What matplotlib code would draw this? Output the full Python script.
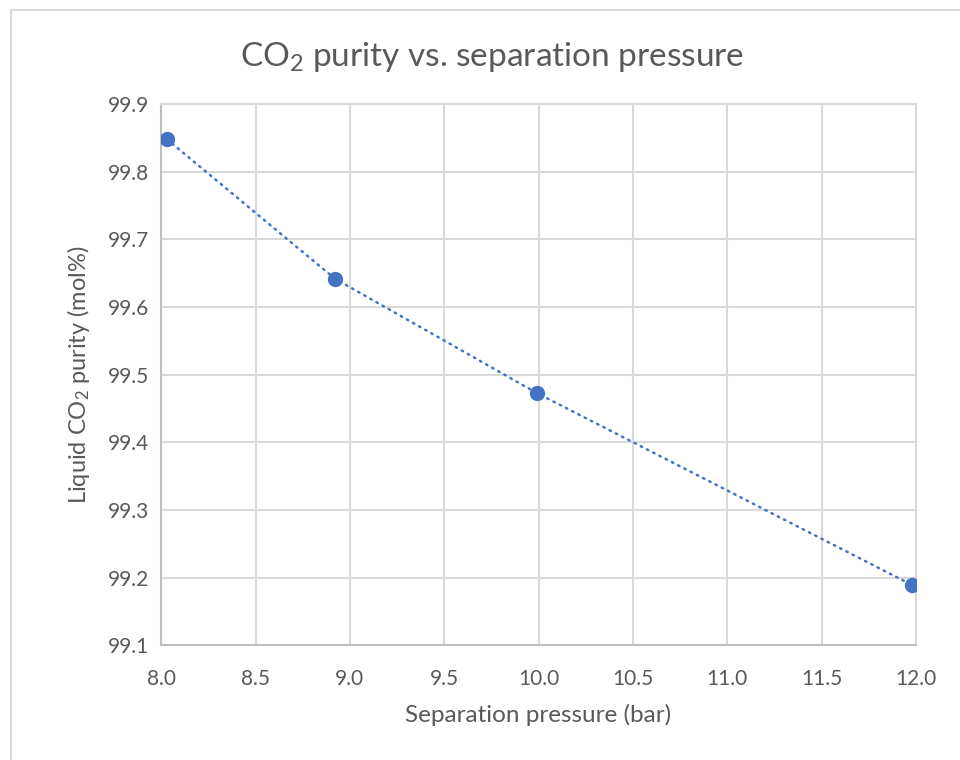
import matplotlib
matplotlib.use("Agg")
import matplotlib.pyplot as plt
from matplotlib.lines import Line2D

# separation pressure (bar) and liquid CO2 purity (mol%)
pressure = [8.03, 8.92, 9.99, 11.98]
purity = [99.848, 99.642, 99.473, 99.189]

x_ticks = [8.0, 8.5, 9.0, 9.5, 10.0, 10.5, 11.0, 11.5, 12.0]
y_ticks = [99.1, 99.2, 99.3, 99.4, 99.5, 99.6, 99.7, 99.8, 99.9]

plt.rcParams["font.family"] = ["Lato", "DejaVu Sans"]
plt.rcParams["mathtext.fontset"] = "custom"
plt.rcParams["mathtext.rm"] = "Lato"
plt.rcParams["mathtext.it"] = "Lato:italic"

text_gray = "#595959"
grid_gray = "#d9d9d9"
blue = "#4472c4"

fig = plt.figure(figsize=(9.6, 7.6), dpi=100)
ax = fig.add_axes([0.168, 0.151, 0.786, 0.712])

ax.plot(pressure, purity, color=blue, linewidth=1.8, linestyle=(0, (0.6, 2.2)),
        dash_capstyle="round", marker="o", markersize=10, markeredgecolor=blue,
        markerfacecolor=blue, zorder=3)

ax.set_xlim(8.0, 12.0)
ax.set_ylim(99.1, 99.9)
ax.set_xticks(x_ticks)
ax.set_yticks(y_ticks)
ax.set_xticklabels([f"{v:.1f}" for v in x_ticks])
ax.set_yticklabels([f"{v:.1f}" for v in y_ticks])
ax.grid(True, color=grid_gray, linewidth=1.5)
ax.set_axisbelow(True)
ax.tick_params(axis="both", length=0, labelsize=15, colors=text_gray)
ax.tick_params(axis="x", pad=17)
ax.tick_params(axis="y", pad=9)
for side in ["top", "right"]:
    ax.spines[side].set_color(grid_gray)
    ax.spines[side].set_linewidth(1.5)
for side in ["left", "bottom"]:
    ax.spines[side].set_color("#bfbfbf")
    ax.spines[side].set_linewidth(1.5)

ax.set_xlabel("Separation pressure (bar)", fontsize=17.5, color=text_gray, labelpad=11)
ax.set_ylabel(r"Liquid CO$_2$ purity (mol%)", fontsize=17, color=text_gray, labelpad=11)
fig.text(0.513, 0.925, r"CO$_2$ purity vs. separation pressure", fontsize=24,
         color=text_gray, ha="center", va="center")

# chart area border (only the left and top edges are visible in the crop)
fig.add_artist(Line2D([0.011, 0.011], [0.0, 0.987], transform=fig.transFigure,
                      color=grid_gray, linewidth=1.5))
fig.add_artist(Line2D([0.011, 1.0], [0.987, 0.987], transform=fig.transFigure,
                      color=grid_gray, linewidth=1.5))

fig.savefig("out.png", dpi=100)
